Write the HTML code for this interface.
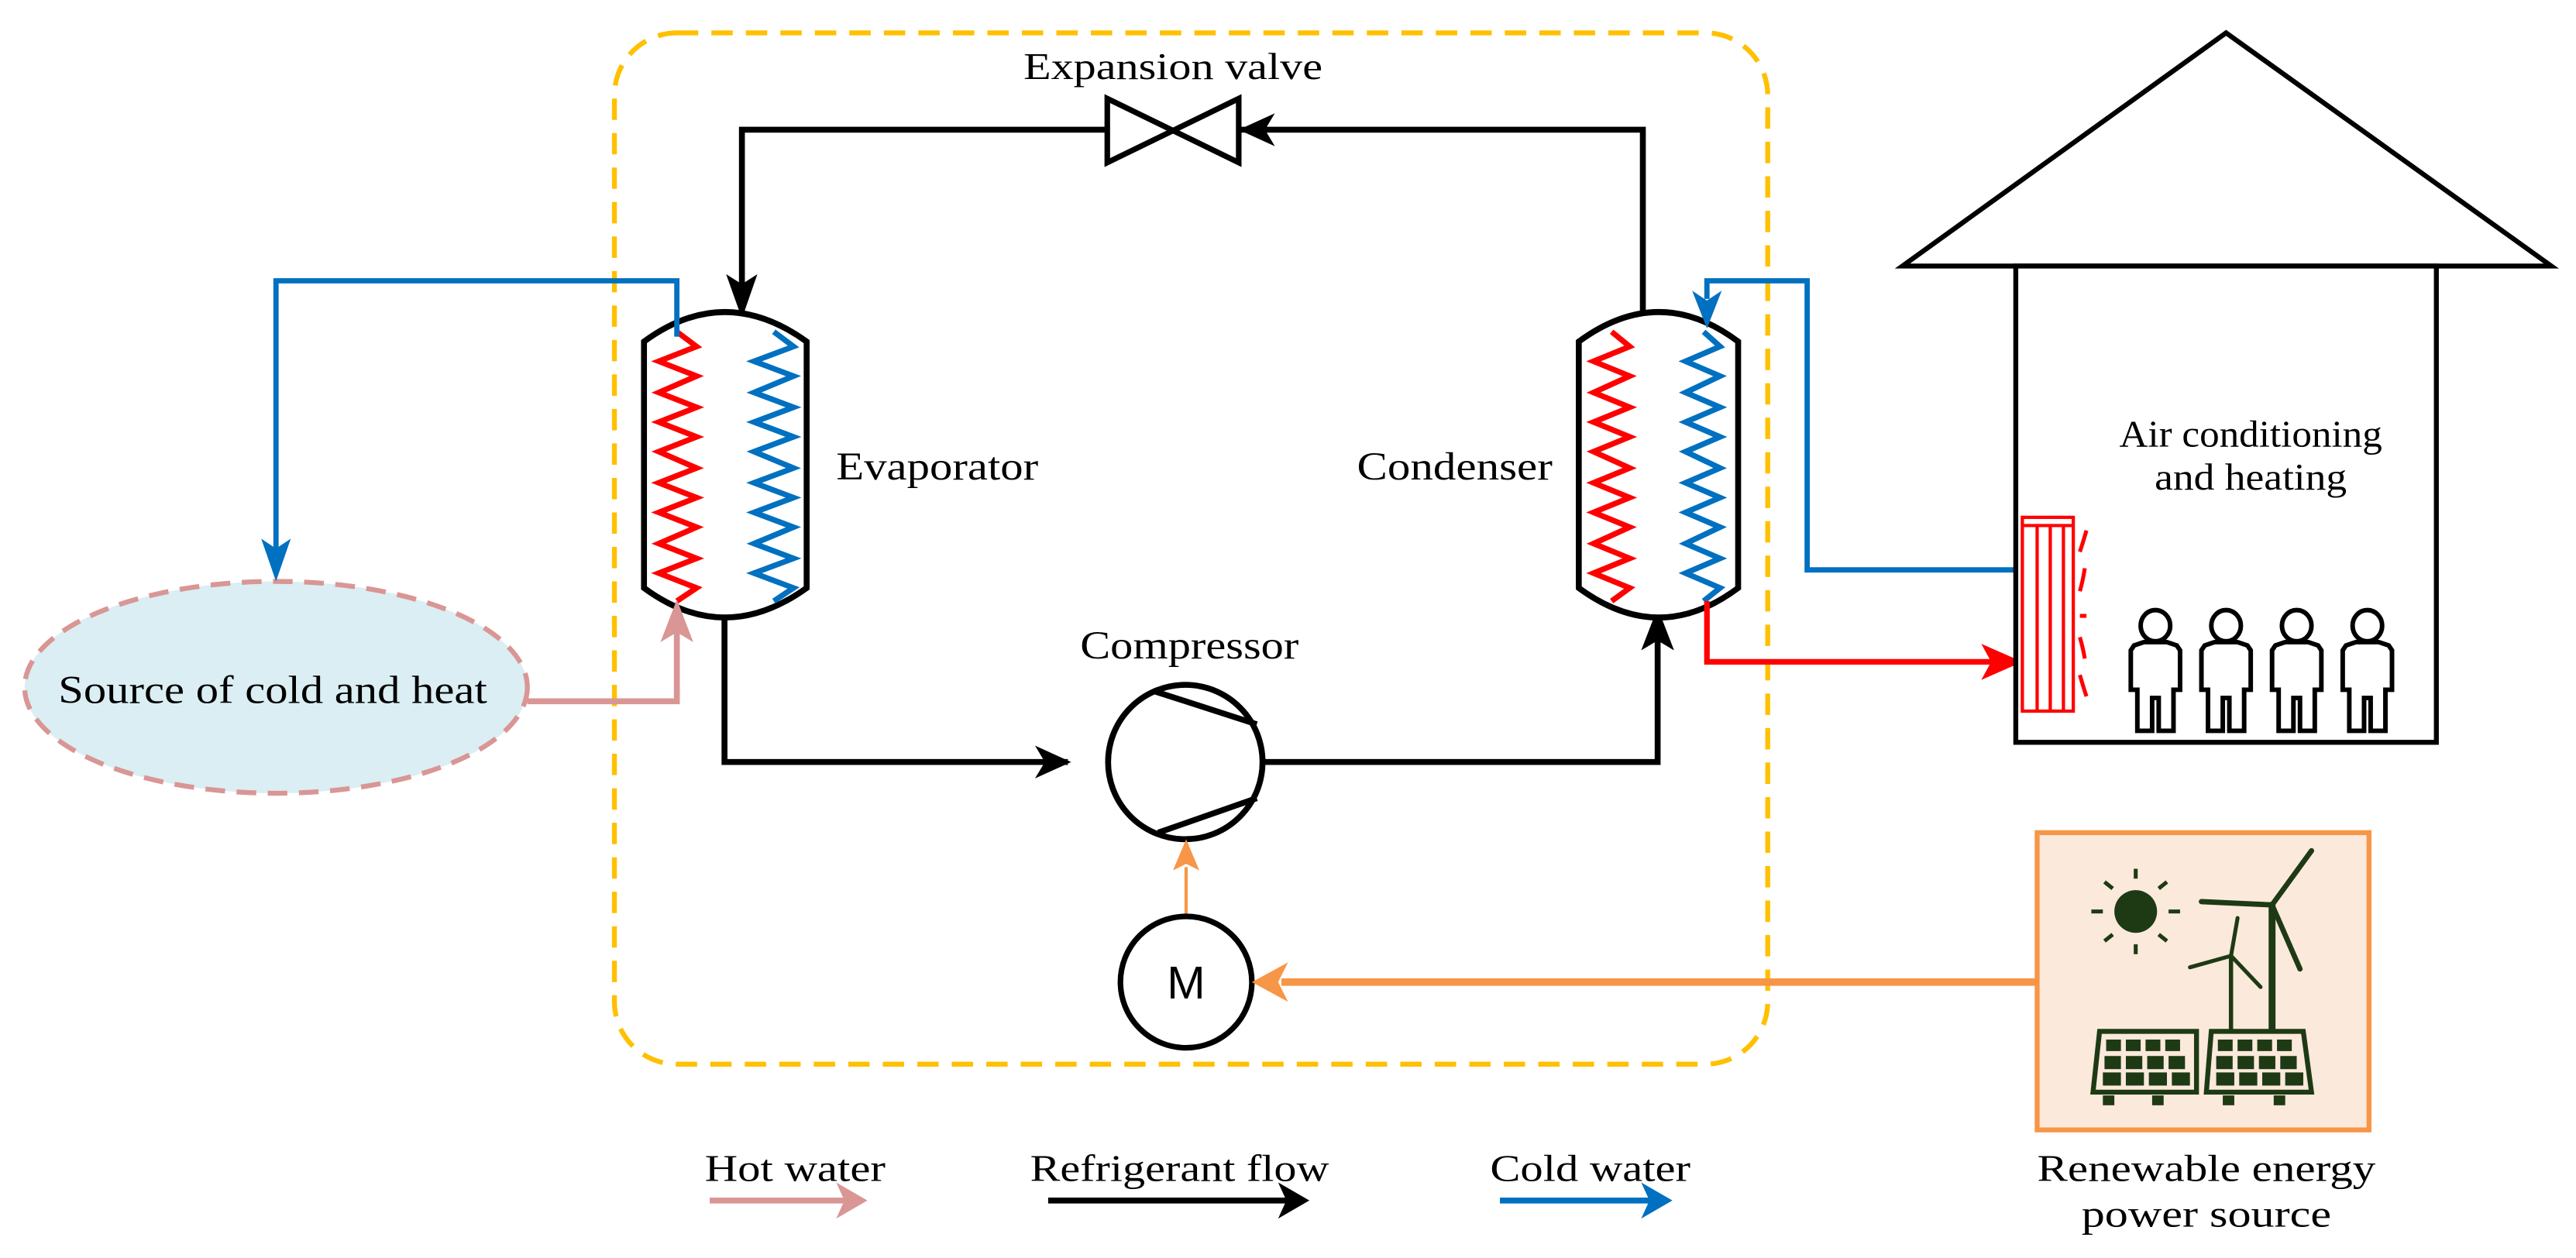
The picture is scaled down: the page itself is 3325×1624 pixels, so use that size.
<!DOCTYPE html>
<html><head><meta charset="utf-8"><style>html,body{margin:0;padding:0;background:#fff}svg{display:block}text{font-family:"Liberation Serif",serif;fill:#000}</style></head><body>
<svg width="3325" height="1624" viewBox="0 0 1568 766" preserveAspectRatio="none" xmlns="http://www.w3.org/2000/svg">
<rect x="0" y="0" width="1568" height="766" fill="#fff"/>
<rect x="374" y="20" width="702" height="628" rx="38" ry="38" fill="none" stroke="#FFC000" stroke-width="3" stroke-dasharray="13,8"/>

<ellipse cx="168" cy="418.5" rx="153" ry="64.5" fill="#DAEEF3" stroke="#D99694" stroke-width="3" stroke-dasharray="12,7"/>
<text x="166" y="428" font-size="24" text-anchor="middle" textLength="261" lengthAdjust="spacingAndGlyphs">Source of cold and heat</text>

<g stroke="#000" stroke-width="3.6" fill="none">
<polyline points="451.6,195 451.6,79 674,79"/>
<polyline points="754,79 1000,79 1000,196"/>
<polyline points="441,372 441,464 650,464"/>
<polyline points="768,464 1009,464 1009,372"/>
</g>
<g fill="#000">
<polygon points="451.6,194 442,167 451.6,173 461,167"/>
<polygon points="754,79 776,69 770,79 776,89"/>
<polygon points="652,464 630,454 636,464 630,474"/>
<polygon points="1009,370 999,396 1009,390 1019,396"/>
</g>
<polygon points="674,60 674,99 754,60 754,99" fill="#fff" stroke="#000" stroke-width="3.4"/>
<text x="714" y="48" font-size="23" text-anchor="middle" textLength="182" lengthAdjust="spacingAndGlyphs">Expansion valve</text>

<path d="M392,208 Q441,172 491,208 L491,358 Q441,394 392,358 Z" fill="#fff" stroke="#000" stroke-width="3.6"/>
<polyline fill="none" stroke="#FF0000" stroke-width="3.4" points="412,202 424,211 401,220 424,229 401,239 424,248 401,257 424,266 401,275 424,285 401,294 424,303 401,312 424,321 401,331 424,340 401,349 424,358 412,366"/>
<polyline fill="none" stroke="#0070C0" stroke-width="3.4" points="471,202 483,211 459,220 483,229 459,239 483,248 459,257 483,266 459,275 483,285 459,294 483,303 459,312 483,321 459,331 483,340 459,349 483,358 471,366"/>
<text x="509" y="292" font-size="24" textLength="123" lengthAdjust="spacingAndGlyphs">Evaporator</text>

<path d="M961,208 Q1010,172 1058,208 L1058,358 Q1010,394 961,358 Z" fill="#fff" stroke="#000" stroke-width="3.6"/>
<polyline fill="none" stroke="#FF0000" stroke-width="3.4" points="981,202 992,211 970,220 992,229 970,239 992,248 970,257 992,266 970,275 992,285 970,294 992,303 970,312 992,321 970,331 992,340 970,349 992,358 981,366"/>
<polyline fill="none" stroke="#0070C0" stroke-width="3.4" points="1037,202 1047,211 1026,220 1047,229 1026,239 1047,248 1026,257 1047,266 1026,275 1047,285 1026,294 1047,303 1026,312 1047,321 1026,331 1047,340 1026,349 1047,358 1037,366"/>
<text x="826" y="292" font-size="24" textLength="119" lengthAdjust="spacingAndGlyphs">Condenser</text>

<polyline fill="none" stroke="#0070C0" stroke-width="3.2" points="412,205 412,171 168,171 168,335"/>
<polygon fill="#0070C0" points="168,354 159,328 168,334 177,328"/>
<polyline fill="none" stroke="#D99694" stroke-width="3.6" points="321,427 412,427 412,385"/>
<polygon fill="#D99694" points="412,365 402,391 412,385 422,391"/>

<polyline fill="none" stroke="#0070C0" stroke-width="3.2" points="1231,347 1100,347 1100,171 1039,171 1039,182"/>
<polygon fill="#0070C0" points="1039,200 1030,177 1039,183 1048,177"/>
<polyline fill="none" stroke="#FF0000" stroke-width="3.4" points="1039,366 1039,403 1212,403"/>
<polygon fill="#FF0000" points="1231,403 1206,392 1212,403 1206,414"/>

<circle cx="721.5" cy="464" r="47" fill="#fff" stroke="#000" stroke-width="3.6"/>
<line x1="703" y1="421" x2="765" y2="441" stroke="#000" stroke-width="3.6"/>
<line x1="705" y1="507" x2="765" y2="486" stroke="#000" stroke-width="3.6"/>
<text x="724" y="401" font-size="24" text-anchor="middle" textLength="133" lengthAdjust="spacingAndGlyphs">Compressor</text>

<line x1="722" y1="557" x2="722" y2="528" stroke="#F79646" stroke-width="2"/>
<polygon fill="#F79646" points="722,511 714,530 722,526 730,530"/>
<circle cx="722" cy="598" r="40" fill="#fff" stroke="#000" stroke-width="3.4"/>
<text x="722" y="608" font-size="28" text-anchor="middle" style="font-family:'Liberation Sans',sans-serif">M</text>
<line x1="1241" y1="598" x2="780" y2="598" stroke="#F79646" stroke-width="4.5"/>
<polygon fill="#F79646" points="762,598 784,586 778,598 784,610"/>

<polygon points="1158,162 1355,20 1553,162" fill="#fff" stroke="#000" stroke-width="3"/>
<rect x="1227" y="162" width="256" height="290" fill="#fff" stroke="#000" stroke-width="3"/>
<text x="1370" y="272" font-size="23" text-anchor="middle" textLength="160" lengthAdjust="spacingAndGlyphs">Air conditioning</text>
<text x="1370" y="298" font-size="23" text-anchor="middle" textLength="117" lengthAdjust="spacingAndGlyphs">and heating</text>
<g stroke="#FF0000" stroke-width="2" fill="none">
<rect x="1231" y="315" width="31" height="118"/>
<line x1="1231" y1="320" x2="1262" y2="320"/>
<line x1="1240" y1="320" x2="1240" y2="433"/>
<line x1="1248" y1="320" x2="1248" y2="433"/>
<line x1="1256" y1="320" x2="1256" y2="433"/>
<path d="M1270,323 Q1268,330 1266,336" stroke-width="2.4"/>
<path d="M1269,346 Q1268,353 1266,360" stroke-width="2.4"/>
<path d="M1266,375 L1270,375" stroke-width="2.4"/>
<path d="M1266,388 Q1268,395 1269,401" stroke-width="2.4"/>
<path d="M1266,411 Q1268,418 1270,424" stroke-width="2.4"/>
</g>
<g fill="#fff" stroke="#000" stroke-width="2.8">
<g transform="translate(1312,0)">
<ellipse cx="0" cy="381" rx="9" ry="9.5"/>
<path d="M-7,391 L-13,393 L-15,396 L-15,420 L-11,420 L-11,445 L-2,445 L-2,425 L2,425 L2,445 L11,445 L11,420 L15,420 L15,396 L13,393 L7,391 Z"/>
</g>
<g transform="translate(1355,0)">
<ellipse cx="0" cy="381" rx="9" ry="9.5"/>
<path d="M-7,391 L-13,393 L-15,396 L-15,420 L-11,420 L-11,445 L-2,445 L-2,425 L2,425 L2,445 L11,445 L11,420 L15,420 L15,396 L13,393 L7,391 Z"/>
</g>
<g transform="translate(1398,0)">
<ellipse cx="0" cy="381" rx="9" ry="9.5"/>
<path d="M-7,391 L-13,393 L-15,396 L-15,420 L-11,420 L-11,445 L-2,445 L-2,425 L2,425 L2,445 L11,445 L11,420 L15,420 L15,396 L13,393 L7,391 Z"/>
</g>
<g transform="translate(1441,0)">
<ellipse cx="0" cy="381" rx="9" ry="9.5"/>
<path d="M-7,391 L-13,393 L-15,396 L-15,420 L-11,420 L-11,445 L-2,445 L-2,425 L2,425 L2,445 L11,445 L11,420 L15,420 L15,396 L13,393 L7,391 Z"/>
</g>
</g>

<rect x="1240" y="507" width="202" height="181" fill="#FBE9DB" stroke="#F79646" stroke-width="3"/>
<g fill="#1E3A14" stroke="#1E3A14">
<circle cx="1300" cy="555" r="13" stroke="none"/>
<g stroke-width="2.4">
<line x1="1300" y1="535" x2="1300" y2="529"/><line x1="1300" y1="575" x2="1300" y2="581"/>
<line x1="1280" y1="555" x2="1273" y2="555"/><line x1="1320" y1="555" x2="1327" y2="555"/>
<line x1="1286" y1="541" x2="1281" y2="537"/><line x1="1314" y1="541" x2="1319" y2="537"/>
<line x1="1286" y1="569" x2="1281" y2="573"/><line x1="1314" y1="569" x2="1319" y2="573"/>
</g>
<g stroke-width="3.2" fill="none" stroke-linecap="round">
<line x1="1383" y1="551" x2="1383" y2="627" stroke-width="4.2"/>
<line x1="1383" y1="551" x2="1407" y2="518"/>
<line x1="1383" y1="551" x2="1340" y2="549"/>
<line x1="1383" y1="551" x2="1400" y2="590"/>
<line x1="1358" y1="582" x2="1358" y2="627" stroke-width="2.6"/>
<line x1="1358" y1="582" x2="1362" y2="559" stroke-width="2.4"/>
<line x1="1358" y1="582" x2="1333" y2="589" stroke-width="2.4"/>
<line x1="1358" y1="582" x2="1376" y2="601" stroke-width="2.4"/>
</g>
<g stroke-width="3" fill="none">
<path d="M1278,628 L1337,628 L1337,665 L1274,665 Z"/>
<path d="M1346,628 L1402,628 L1407,665 L1343,665 Z"/>
</g>
<g stroke="none">
<rect x="1282" y="633" width="9" height="7"/><rect x="1294" y="633" width="9" height="7"/><rect x="1306" y="633" width="9" height="7"/><rect x="1318" y="633" width="9" height="7"/>
<rect x="1281" y="643" width="10" height="8"/><rect x="1294" y="643" width="10" height="8"/><rect x="1307" y="643" width="10" height="8"/><rect x="1320" y="643" width="10" height="8"/>
<rect x="1280" y="653" width="11" height="8"/><rect x="1294" y="653" width="11" height="8"/><rect x="1308" y="653" width="11" height="8"/><rect x="1322" y="653" width="11" height="8"/>
<rect x="1350" y="633" width="9" height="7"/><rect x="1362" y="633" width="9" height="7"/><rect x="1374" y="633" width="9" height="7"/><rect x="1386" y="633" width="9" height="7"/>
<rect x="1349" y="643" width="10" height="8"/><rect x="1362" y="643" width="10" height="8"/><rect x="1375" y="643" width="10" height="8"/><rect x="1388" y="643" width="10" height="8"/>
<rect x="1349" y="653" width="11" height="8"/><rect x="1363" y="653" width="11" height="8"/><rect x="1377" y="653" width="11" height="8"/><rect x="1391" y="653" width="11" height="8"/>
<rect x="1280" y="667" width="7" height="6"/><rect x="1310" y="667" width="7" height="6"/><rect x="1353" y="667" width="7" height="6"/><rect x="1384" y="667" width="7" height="6"/>
</g>
</g>
<text x="1343" y="719" font-size="23" text-anchor="middle" textLength="206" lengthAdjust="spacingAndGlyphs">Renewable energy</text>
<text x="1343" y="747" font-size="23" text-anchor="middle" textLength="152" lengthAdjust="spacingAndGlyphs">power source</text>

<text x="484" y="719" font-size="23" text-anchor="middle" textLength="110" lengthAdjust="spacingAndGlyphs">Hot water</text>
<line x1="432" y1="731" x2="515" y2="731" stroke="#D99694" stroke-width="3.6"/>
<polygon fill="#D99694" points="528,731 509,720 514,731 509,742"/>
<text x="718" y="719" font-size="23" text-anchor="middle" textLength="182" lengthAdjust="spacingAndGlyphs">Refrigerant flow</text>
<line x1="638" y1="731" x2="784" y2="731" stroke="#000" stroke-width="3.6"/>
<polygon fill="#000" points="797,731 778,720 783,731 778,742"/>
<text x="968" y="719" font-size="23" text-anchor="middle" textLength="122" lengthAdjust="spacingAndGlyphs">Cold water</text>
<line x1="913" y1="731" x2="1005" y2="731" stroke="#0070C0" stroke-width="3.6"/>
<polygon fill="#0070C0" points="1018,731 999,720 1004,731 999,742"/>
</svg>
</body></html>
